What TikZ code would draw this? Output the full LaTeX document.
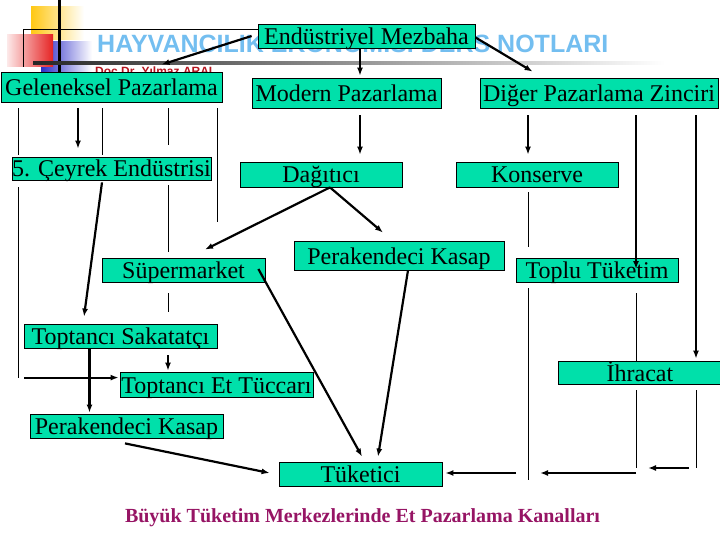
\documentclass[tikz,border=0pt]{standalone}
\usepackage{fontspec}
\setmainfont{Liberation Serif}
\newfontfamily\slidefont{Liberation Sans}
\usetikzlibrary{calc,arrows.meta}
\definecolor{boxgreen}{RGB}{0,224,170}
\definecolor{titleblue}{RGB}{115,190,240}
\definecolor{captionred}{RGB}{150,20,100}
\definecolor{slideyellow}{RGB}{255,200,20}
\definecolor{slidered}{RGB}{230,35,35}
\definecolor{slideblue}{RGB}{45,45,200}
\definecolor{namered}{RGB}{180,20,30}

\begin{document}
\begin{tikzpicture}[x=1pt,y=-1pt,
    box/.style={draw=black,fill=boxgreen,line width=0.8pt,inner sep=0pt,
        text height=19pt,text depth=2pt,font=\fontsize{24}{26}\selectfont},
    thinline/.style={line width=0.9pt},
    arrowline/.style={line width=2.2pt,-{Latex[length=8pt,width=6pt]}}]

    % Page is 720 x 540, one unit is one pixel.
    \useasboundingbox (0,0) rectangle (720,540);

    % Slide template behind the chart
    \shade[left color=slideyellow,middle color=slideyellow!60,right color=white] (31,7) rectangle (84,40);
    \shade[left color=slideblue,right color=white] (41,42) rectangle (92,72);
    \shade[left color=slidered!10,right color=slidered] (7,35) rectangle (53,67);
    \draw[line width=3pt] (59,0) -- (59,72);
    \shade[left color=black!85,middle color=gray!70,right color=white] (33,61.5) rectangle (665,64.5);
    \node[anchor=base west,inner sep=0pt,text=titleblue,
        font=\slidefont\bfseries\fontsize{25}{30}\selectfont] (slidetitle) at (97,53)
        {HAYVANCILIK EKONOMİSİ DERS NOTLARI};
    \node[anchor=base west,inner sep=0pt,text=namered,
        font=\slidefont\bfseries\fontsize{12}{14}\selectfont] (slideauthor) at (95,76)
        {Doç.Dr. Yılmaz ARAL};

    % Columns for the vertical lines
    \coordinate (xA) at (18,0);
    \coordinate (xB) at (78,0);
    \coordinate (xC) at (102,0);
    \coordinate (xD) at (168,0);
    \coordinate (xE) at (217,0);
    \coordinate (xM) at (360,0);
    \coordinate (xK) at (528,0);
    \coordinate (xT) at (636,0);
    \coordinate (xI) at (696,0);

    % Boxes
    \node[box,minimum width=217pt,minimum height=24pt] (mezbaha) at (366.5,36) {Endüstriyel Mezbaha};
    \node[box,minimum width=221pt,minimum height=30pt] (geleneksel) at (111.5,87) {Geleneksel Pazarlama};
    \node[box,minimum width=189pt,minimum height=30pt] (modern) at (346.5,93) {Modern Pazarlama};
    \node[box,minimum width=238pt,minimum height=30pt] (diger) at (599,93) {Diğer Pazarlama Zinciri};
    \node[box,minimum width=199pt,minimum height=23pt] (ceyrek) at (111.5,168.5) {5. Çeyrek Endüstrisi};
    \node[box,minimum width=162pt,minimum height=25pt] (dagitici) at (321,174.5) {Dağıtıcı};
    \node[box,minimum width=162pt,minimum height=25pt] (konserve) at (537,174.5) {Konserve};
    \node[box,minimum width=163pt,minimum height=24pt] (supermarket) at (183.5,270) {Süpermarket};
    \node[box,minimum width=210pt,minimum height=29pt] (kasapa) at (399,255.5) {Perakendeci Kasap};
    \node[box,minimum width=162pt,minimum height=24pt] (toplu) at (597,270) {Toplu Tüketim};
    \node[box,minimum width=193pt,minimum height=24pt] (sakatatci) at (120.5,336) {Toptancı Sakatatçı};
    \node[box,minimum width=164pt,minimum height=23pt] (ihracat) at (640,372.5) {İhracat};
    \node[box,minimum width=193pt,minimum height=25pt] (tuccar) at (216.5,384.5) {Toptancı Et Tüccarı};
    \node[box,minimum width=193pt,minimum height=24pt] (kasapb) at (126.5,426) {Perakendeci Kasap};
    \node[box,minimum width=163pt,minimum height=24pt] (tuketici) at (360.5,474) {Tüketici};
    \node[anchor=base,text=captionred,font=\bfseries\fontsize{20}{24}\selectfont] (caption)
        at (362.5,522) {Büyük Tüketim Merkezlerinde Et Pazarlama Kanalları};

    % Endüstriyel Mezbaha
    \draw[thinline] ($(mezbaha.north west)+(0,6)$) -| ($(geleneksel.north west)+(23,-5)$);
    \draw[arrowline] ($(mezbaha.west)+(-6,0)$) -- ($(geleneksel.north)+(50,-7)$);
    \draw[arrowline,shorten >=2pt] (mezbaha.south -| xM) -- (modern.north -| xM);
    \draw[arrowline] ($(mezbaha.south east)+(0,-11)$) -- ($(diger.north west)+(53,-6)$);

    % Geleneksel Pazarlama
    \draw[thinline,shorten <=6pt,shorten >=2pt] (geleneksel.south -| xA) -- (ceyrek.north -| xA);
    \draw[thinline,shorten <=7pt] (ceyrek.south -| xA) -- ($(tuccar.north -| xA)+(0,6)$);
    \draw[arrowline] ($(tuccar.north -| xA)+(6,6)$) -- ($(tuccar.north west)+(-1,6)$);
    \draw[arrowline,shorten <=6pt,shorten >=8pt] (geleneksel.south -| xB) -- (ceyrek.north -| xB);
    \draw[thinline,shorten <=6pt,shorten >=2pt] (geleneksel.south -| xC) -- (ceyrek.north -| xC);
    \draw[thinline,shorten <=6pt,shorten >=12pt] (geleneksel.south -| xD) -- (ceyrek.north -| xD);
    \draw[thinline,shorten <=5pt,shorten >=6pt] (ceyrek.south -| xD) -- (supermarket.north -| xD);
    \draw[thinline,shorten <=11pt,shorten >=12pt] (supermarket.south -| xD) -- (sakatatci.north -| xD);
    \draw[thinline,shorten <=6pt,shorten >=36pt] (geleneksel.south -| xE) -- (supermarket.north -| xE);
    \draw[arrowline] ($(ceyrek.south)+(-9.5,2)$) -- ($(sakatatci.north)+(-36.5,-7)$);

    % Modern Pazarlama
    \draw[arrowline,shorten <=7pt,shorten >=7pt] (modern.south -| xM) -- (dagitici.north -| xM);
    \draw[arrowline] ($(dagitici.south)+(9,0)$) -- ($(supermarket.north)+(21.5,-8)$);
    \draw[arrowline] ($(dagitici.south)+(9,0)$) -- ($(kasapa.north)+(-16,-8)$);
    \draw[arrowline] ($(supermarket.east)+(-7,-1)$) -- ($(tuketici.north)+(1.5,-5)$);
    \draw[arrowline] ($(kasapa.south)+(9,0)$) -- ($(tuketici.north)+(17.5,-5)$);

    % Diğer Pazarlama Zinciri
    \draw[arrowline,shorten <=7pt,shorten >=7pt] (diger.south -| xK) -- (konserve.north -| xK);
    \draw[thinline,shorten <=5pt,shorten >=11pt] (konserve.south -| xK) -- (toplu.north -| xK);
    \draw[thinline,shorten <=6pt,shorten >=6pt] (toplu.south -| xK) -- (tuketici.south -| xK);
    \draw[arrowline,shorten <=7pt,shorten >=1pt] (diger.south -| xT) -- (toplu.center -| xT);
    \draw[thinline,shorten <=11pt] (toplu.south -| xT) -- (ihracat.north -| xT);
    \draw[thinline,shorten <=6pt] (ihracat.south -| xT) -- ($(tuketici.east -| xT)+(0,-6)$);
    \draw[arrowline,shorten <=7pt,shorten >=2pt] (diger.south -| xI) -- (ihracat.north -| xI);
    \draw[thinline,shorten <=6pt] (ihracat.south -| xI) -- ($(tuketici.east -| xI)+(0,-6)$);

    % Into Tüketici from the right
    \draw[arrowline] ($(tuketici.east -| xK)+(-12,-1)$) -- ($(tuketici.east)+(3,-1)$);
    \draw[arrowline] ($(tuketici.east -| xT)+(0,-1)$) -- ($(tuketici.east -| xK)+(12,-1)$);
    \draw[arrowline] ($(tuketici.east -| xI)+(-7,-6)$) -- ($(tuketici.east -| xT)+(12,-6)$);

    % Toptancı Sakatatçı
    \draw[arrowline,shorten <=7pt,shorten >=1pt] (sakatatci.south -| xD) -- (tuccar.north -| xD);
    \draw[arrowline] ($(sakatatci.south)+(-31,1)$) -- ($(kasapb.north)+(-37,-1)$);
    \draw[arrowline] ($(kasapb.south)+(-1.5,5)$) -- ($(tuketici.west)+(-9,-1)$);

\end{tikzpicture}
\end{document}
